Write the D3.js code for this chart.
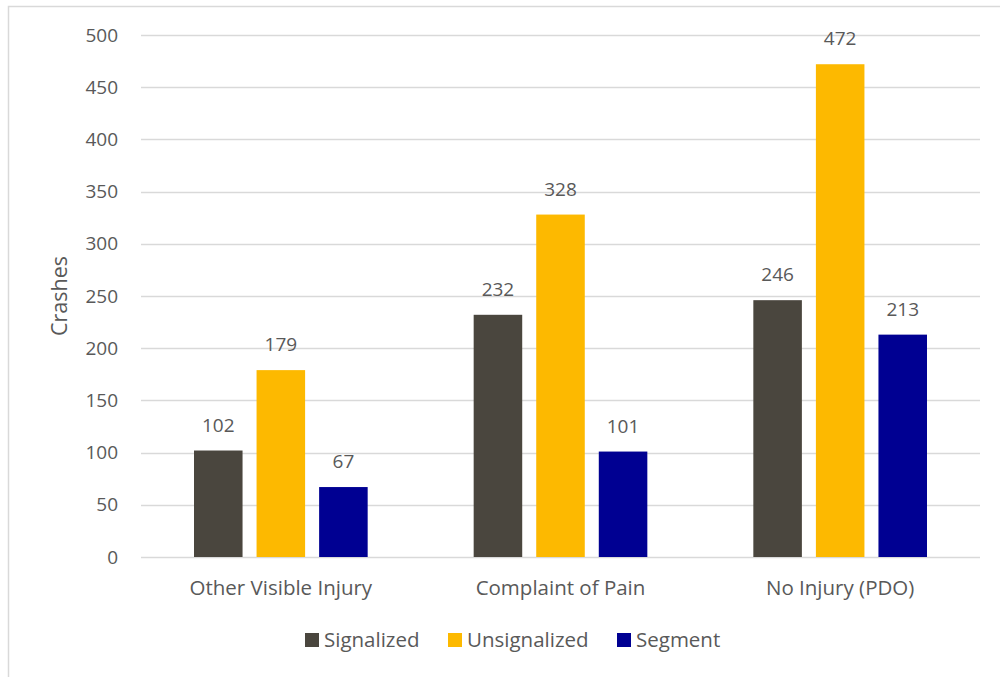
<!DOCTYPE html>
<html>
<head>
<meta charset="utf-8">
<script src="https://cdn.jsdelivr.net/npm/d3@7"></script>
<style>
  html, body { margin: 0; padding: 0; background: #fff; }
  svg { display: block; }
  text { font-family: "Open Sans", "Noto Sans", sans-serif; fill: #595959; }
</style>
</head>
<body>
<svg id="chart" width="1000" height="677"></svg>
<script>
// Crash counts by severity and location type
const categories = ["Other Visible Injury", "Complaint of Pain", "No Injury (PDO)"];
const series = ["Signalized", "Unsignalized", "Segment"];
const signalized = [102, 232, 246];
const unsignalized = [179, 328, 472];
const segment = [67, 101, 213];
const yTicks = [0, 50, 100, 150, 200, 250, 300, 350, 400, 450, 500];
const colors = ["#4a463e", "#fdb900", "#000092"];

const valuesBySeries = [signalized, unsignalized, segment];
const rows = categories.map((c, i) => ({
  category: c,
  values: series.map((s, j) => ({ key: s, value: valuesBySeries[j][i], color: colors[j] }))
}));

const svg = d3.select("#chart");

// outer frame
svg.append("rect")
  .attr("x", 8.5).attr("y", 6.5)
  .attr("width", 1000).attr("height", 700)
  .attr("fill", "none").attr("stroke", "#d9d9d9").attr("stroke-width", 1.5);

const plot = { left: 141, right: 980, top: 35, bottom: 557 };

const y = d3.scaleLinear().domain([0, 500]).range([plot.bottom, plot.top]);
const x0 = d3.scaleBand().domain(categories).range([plot.left, plot.right]).padding(0);
const groupPad = 53;
const x1 = d3.scaleBand().domain(series)
  .range([groupPad, x0.bandwidth() - groupPad])
  .paddingInner(0.224).paddingOuter(0);

// gridlines
svg.append("g")
  .selectAll("line")
  .data(yTicks)
  .join("line")
  .attr("x1", plot.left).attr("x2", plot.right)
  .attr("y1", d => Math.round(y(d)) + 0.5).attr("y2", d => Math.round(y(d)) + 0.5)
  .attr("stroke", "#d9d9d9").attr("stroke-width", 1.3);

// y-axis tick labels
svg.append("g")
  .selectAll("text")
  .data(yTicks)
  .join("text")
  .attr("x", 118).attr("y", d => y(d))
  .attr("dy", "0.35em")
  .attr("text-anchor", "end")
  .attr("font-size", 19)
  .text(d => d);

// y-axis title
svg.append("text")
  .attr("transform", `translate(67,${(plot.top + plot.bottom) / 2}) rotate(-90)`)
  .attr("text-anchor", "middle")
  .attr("font-size", 21.5)
  .text("Crashes");

// bars
const groups = svg.append("g")
  .selectAll("g")
  .data(rows)
  .join("g")
  .attr("transform", d => `translate(${x0(d.category)},0)`);

groups.selectAll("rect")
  .data(d => d.values)
  .join("rect")
  .attr("x", d => x1(d.key))
  .attr("y", d => y(d.value))
  .attr("width", x1.bandwidth())
  .attr("height", d => y(0) - y(d.value))
  .attr("fill", d => d.color);

// value labels
groups.selectAll("text.val")
  .data(d => d.values)
  .join("text")
  .attr("class", "val")
  .attr("x", d => x1(d.key) + x1.bandwidth() / 2)
  .attr("y", d => y(d.value) - 19)
  .attr("text-anchor", "middle")
  .attr("font-size", 19)
  .text(d => d.value);

// category labels
svg.append("g")
  .selectAll("text")
  .data(categories)
  .join("text")
  .attr("x", d => x0(d) + x0.bandwidth() / 2)
  .attr("y", 595)
  .attr("text-anchor", "middle")
  .attr("font-size", 20.5)
  .text(d => d);

// legend
const legendX = [305, 448, 617];
const legend = svg.append("g")
  .selectAll("g")
  .data(series)
  .join("g")
  .attr("transform", (d, i) => `translate(${legendX[i]},633)`);
legend.append("rect")
  .attr("width", 14).attr("height", 14)
  .attr("fill", (d, i) => colors[i]);
legend.append("text")
  .attr("x", 19).attr("y", 7)
  .attr("dy", "0.35em")
  .attr("font-size", 20.5)
  .text(d => d);
</script>
</body>
</html>
